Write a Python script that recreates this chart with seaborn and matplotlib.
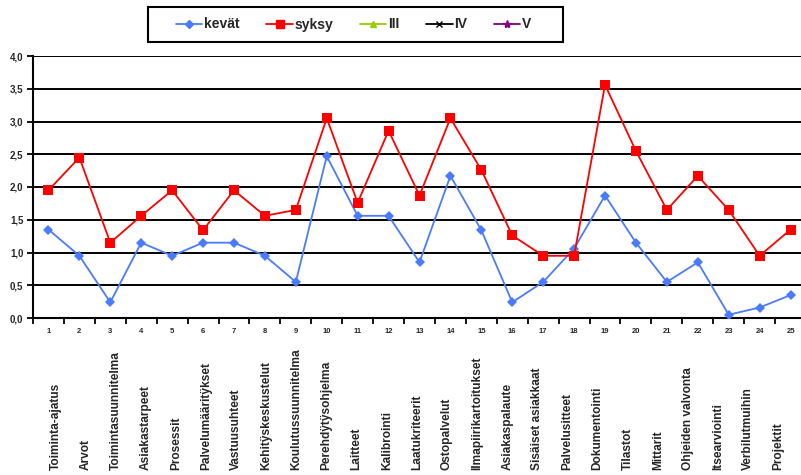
import numpy as np
import pandas as pd
import matplotlib
matplotlib.use("Agg")
import matplotlib.pyplot as plt
import seaborn as sns
from matplotlib.ticker import FixedLocator, FuncFormatter
from matplotlib.transforms import blended_transform_factory
from matplotlib.patches import Rectangle

categories = list(range(1, 26))
names = [
    "Toiminta-ajatus", "Arvot", "Toimintasuunnitelma", "Asiakastarpeet",
    "Prosessit", "Palvelumäärit\u00ffkset", "Vastuusuhteet",
    "Kehit\u00ffskeskustelut", "Koulutussuunnitelma", "Perehd\u00fft\u00ffsohjelma",
    "Laitteet", "Kalibrointi", "Laatukriteerit", "Ostopalvelut",
    "Ilmapiirikartoitukset", "Asiakaspalaute", "Sisäiset asiakkaat",
    "Palvelusitteet", "Dokumentointi", "Tilastot", "Mittarit",
    "Ohjeiden valvonta", "Itsearviointi", "Verbilutmuihin", "Projektit",
]
kevat = [1.35, 0.95, 0.24, 1.15, 0.95, 1.15, 1.15, 0.95, 0.55, 2.47,
         1.56, 1.56, 0.85, 2.17, 1.34, 0.24, 0.55, 1.06, 1.87, 1.15,
         0.55, 0.85, 0.05, 0.16, 0.35]
syksy = [1.95, 2.45, 1.15, 1.56, 1.95, 1.34, 1.95, 1.56, 1.65, 3.05,
         1.76, 2.86, 1.87, 3.05, 2.26, 1.26, 0.95, 0.95, 3.56, 2.55,
         1.65, 2.17, 1.65, 0.95, 1.35]
series_names = ["kevät", "syksy", "III", "IV", "V"]
y_ticks = [0.0, 0.5, 1.0, 1.5, 2.0, 2.5, 3.0, 3.5, 4.0]

df = pd.DataFrame({
    "cat": categories * 2,
    "value": kevat + syksy,
    "series": [series_names[0]] * len(kevat) + [series_names[1]] * len(syksy),
})

sns.set_theme(style="white")
plt.rcParams["font.family"] = ["Liberation Sans", "DejaVu Sans"]

fig = plt.figure(figsize=(8.01, 4.75), dpi=100)
ax = fig.add_axes([33 / 801, 1 - 318 / 475, 773 / 801, 262 / 475])

blue = "#4a7bff"
red = "#ff0000"
sns.lineplot(data=df, x="cat", y="value", hue="series", style="series",
             palette={"kevät": blue, "syksy": red},
             markers={"kevät": "D", "syksy": "s"}, dashes=False,
             markersize=5.5, linewidth=1.3, markeredgewidth=0,
             ax=ax, legend=False, zorder=3)
lines = ax.get_lines()
if len(lines) >= 2:
    lines[0].set_markersize(5)
    lines[1].set_markersize(7)

# empty series (shown only in the legend)
h1, = ax.plot([], [], color=blue, marker="D", markersize=4, lw=1.3)
h2, = ax.plot([], [], color=red, marker="s", markersize=6, lw=1.3)
h3, = ax.plot([], [], color="#99cc00", marker="^", markersize=5, lw=1.3)
h4, = ax.plot([], [], color="black", marker="x", markersize=5, lw=1.3)
h5, = ax.plot([], [], color="#800080", marker="*", markersize=6, lw=1.3)

ax.set_xlim(0.5, 25.5)
ax.set_ylim(0, 4.0)
ax.set_yticks(y_ticks)
ax.yaxis.set_major_formatter(FuncFormatter(lambda v, p: f"{v:.1f}".replace(".", ",")))
ax.set_xticks(categories)
ax.set_xticklabels([str(c) for c in categories])
ax.xaxis.set_minor_locator(FixedLocator([c + 0.5 for c in [0] + categories]))
ax.tick_params(axis="x", which="major", length=0, labelsize=5.5, pad=7)
ax.tick_params(axis="x", which="minor", length=4, width=1.3, color="black", direction="out", bottom=True)
ax.tick_params(axis="y", which="major", length=4, width=1.3, color="black", direction="out",
               labelsize=7, left=True, pad=3)
for lab in ax.get_yticklabels() + ax.get_xticklabels():
    lab.set_fontweight("bold")
ax.set_xlabel("")
ax.set_ylabel("")

ax.grid(False)
for y in y_ticks[1:]:
    ax.axhline(y, color="black", lw=1.4, zorder=1)
for s in ["top", "right"]:
    ax.spines[s].set_visible(False)
for s in ["left", "bottom"]:
    ax.spines[s].set_color("black")
    ax.spines[s].set_linewidth(1.5)

# category names (placed like a separate text row under the axis)
trans = blended_transform_factory(ax.transData, fig.transFigure)
for i, n in enumerate(names):
    xpos = 1.227 + i * 0.974
    ax.text(xpos, 0.010, n, rotation=90, ha="center", va="bottom",
            fontsize=8.6, fontweight="bold", transform=trans, clip_on=False)

leg = fig.legend([h1, h2, h3, h4, h5], series_names, loc="center left",
                 bbox_to_anchor=(169 / 801, 1 - 24.5 / 475), ncol=5, frameon=False,
                 fontsize=10, handlelength=1.9, columnspacing=1.95,
                 borderpad=0, handletextpad=0.1)
for t in leg.get_texts():
    t.set_fontweight("bold")
fig.patches.append(Rectangle((148 / 801, 1 - 42 / 475), 415 / 801, 35 / 475,
                             transform=fig.transFigure, fill=False,
                             edgecolor="black", linewidth=1.5))

fig.savefig("out.png", dpi=100)
